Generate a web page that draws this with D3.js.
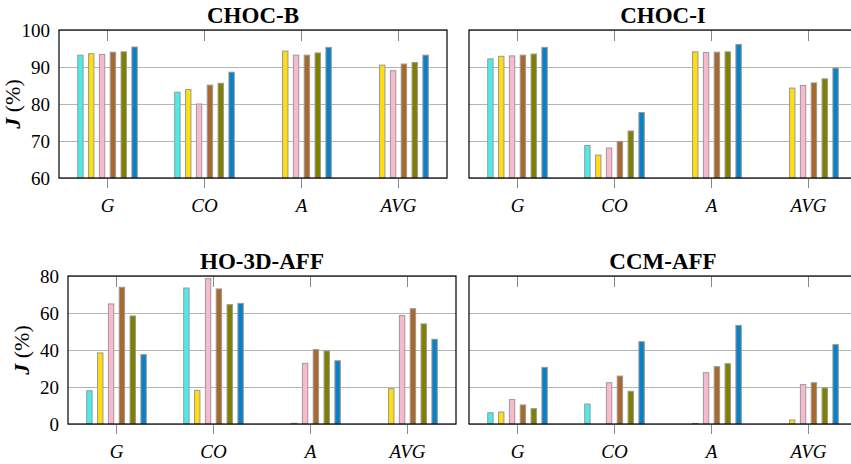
<!DOCTYPE html>
<html>
<head>
<meta charset="utf-8">
<script src="https://cdn.jsdelivr.net/npm/d3@7"></script>
<style>
  html, body { margin: 0; padding: 0; background: #fff; }
  svg { display: block; }
  #chart text { font-family: "Liberation Serif", serif !important; }
</style>
</head>
<body>
<svg id="chart" width="851" height="464" font-family="'Liberation Serif', serif"></svg>
<script>
// ---------- data ----------
const categories = ["G", "CO", "A", "AVG"];
const seriesNames = ["S1", "S2", "S3", "S4", "S5", "S6"];
const seriesColors = ["#4deaea", "#ffdd10", "#f8b9ce", "#a86a2c", "#808000", "#0a80c6"];

const titles = ["CHOC-B", "CHOC-I", "HO-3D-AFF", "CCM-AFF"];
const ticksTop = [60, 70, 80, 90, 100];
const ticksBottom = [0, 20, 40, 60, 80];

// values per series (rows) for G, CO, A, AVG (columns); null = no bar
const chocB = [
  [93.2, 83.2, null, null],
  [93.6, 83.9, 94.3, 90.5],
  [93.4, 80.0, 93.2, 89.0],
  [94.0, 85.1, 93.2, 90.8],
  [94.1, 85.6, 93.8, 91.2],
  [95.4, 88.6, 95.3, 93.2]
];
const chocI = [
  [92.2, 68.8, null, null],
  [92.9, 66.2, 94.1, 84.3],
  [93.0, 68.1, 93.9, 85.0],
  [93.2, 69.9, 94.0, 85.7],
  [93.5, 72.7, 94.1, 86.8],
  [95.3, 77.7, 96.1, 89.7]
];
const ho3d = [
  [18.0, 73.5, null, null],
  [38.4, 18.2, 0.4, 19.1],
  [64.9, 78.6, 32.8, 58.6],
  [73.9, 73.0, 40.2, 62.3],
  [58.4, 64.5, 39.5, 54.1],
  [37.5, 65.2, 34.2, 45.8]
];
const ccm = [
  [6.1, 10.8, null, null],
  [6.5, null, 0.3, 2.2],
  [13.2, 22.3, 27.7, 21.3],
  [10.3, 25.9, 31.0, 22.3],
  [8.3, 17.7, 32.6, 19.5],
  [30.6, 44.5, 53.3, 42.9]
];

// ---------- layout ----------
const W = 388, H = 148;
const FONT = '"Liberation Serif", serif';
const panels = [
  { title: titles[0], data: chocB, domain: [60, 100], ticks: ticksTop, x: 59, y: 30, first: true },
  { title: titles[1], data: chocI, domain: [60, 100], ticks: ticksTop, x: 469, y: 30, first: false },
  { title: titles[2], data: ho3d, domain: [0, 80], ticks: ticksBottom, x: 68, y: 276, first: true },
  { title: titles[3], data: ccm, domain: [0, 80], ticks: ticksBottom, x: 469, y: 276, first: false }
];

const svg = d3.select("#chart");

panels.forEach(p => {
  const g = svg.append("g").attr("transform", `translate(${p.x},${p.y})`);
  const x = d3.scaleBand().domain(categories).range([0, W]);
  const xs = d3.scalePoint().domain(d3.range(seriesNames.length)).range([-27.1, 27.1]);
  const y = d3.scaleLinear().domain(p.domain).range([H, 0]);
  const bw = 5.4;

  // grid lines
  const grid = g.append("g")
    .call(d3.axisLeft(y).tickValues(p.ticks).tickSize(-W).tickFormat(""));
  grid.select(".domain").remove();
  grid.selectAll("line").attr("stroke", "#b5b5b5").attr("stroke-width", 1);

  // bars
  const flat = [];
  p.data.forEach((row, si) => row.forEach((v, ci) => {
    if (v !== null) flat.push({ si, cat: categories[ci], v });
  }));
  g.append("g").selectAll("rect").data(flat).join("rect")
    .attr("x", d => x(d.cat) + x.bandwidth() / 2 + xs(d.si) - bw / 2)
    .attr("width", bw)
    .attr("y", d => y(d.v))
    .attr("height", d => Math.max(0, y(p.domain[0]) - y(d.v)))
    .attr("fill", d => seriesColors[d.si])
    .attr("stroke", "#999")
    .attr("stroke-width", 1);

  // y tick labels (left column only)
  if (p.first) {
    const ya = g.append("g")
      .call(d3.axisLeft(y).tickValues(p.ticks).tickSize(0).tickPadding(9));
    ya.select(".domain").remove();
    ya.attr("font-family", null);
    ya.selectAll("text").style("font-family", FONT).attr("font-size", 19).attr("fill", "#000");
  }

  // x axis bottom (outside ticks + labels)
  const xa = g.append("g").attr("transform", `translate(0,${H})`)
    .call(d3.axisBottom(x).tickSize(10).tickPadding(11));
  xa.attr("font-family", null);
  xa.select(".domain").remove();
  xa.selectAll("line").attr("stroke", "#888");
  xa.selectAll("text").style("font-family", FONT).attr("font-size", 19)
    .attr("font-style", "italic").attr("fill", "#000");

  // top inside ticks
  const xt = g.append("g")
    .call(d3.axisTop(x).tickSize(-11).tickFormat(""));
  xt.select(".domain").remove();
  xt.selectAll("line").attr("stroke", "#888");

  // frame
  g.append("rect").attr("width", W).attr("height", H)
    .attr("fill", "none").attr("stroke", "#000").attr("stroke-width", 1.2);

  // title
  g.append("text").attr("x", W / 2).attr("y", -7)
    .attr("text-anchor", "middle").style("font-family", FONT)
    .attr("font-weight", "bold").attr("font-size", 23).text(p.title);

  // y label
  if (p.first) {
    const t = g.append("text")
      .attr("transform", `translate(${-39},${H / 2}) rotate(-90)`)
      .attr("text-anchor", "middle").style("font-family", FONT).attr("font-size", 22);
    t.append("tspan").attr("font-weight", "bold").attr("font-style", "italic").text("J");
    t.append("tspan").text(" (%)");
  }
});
</script>
</body>
</html>
